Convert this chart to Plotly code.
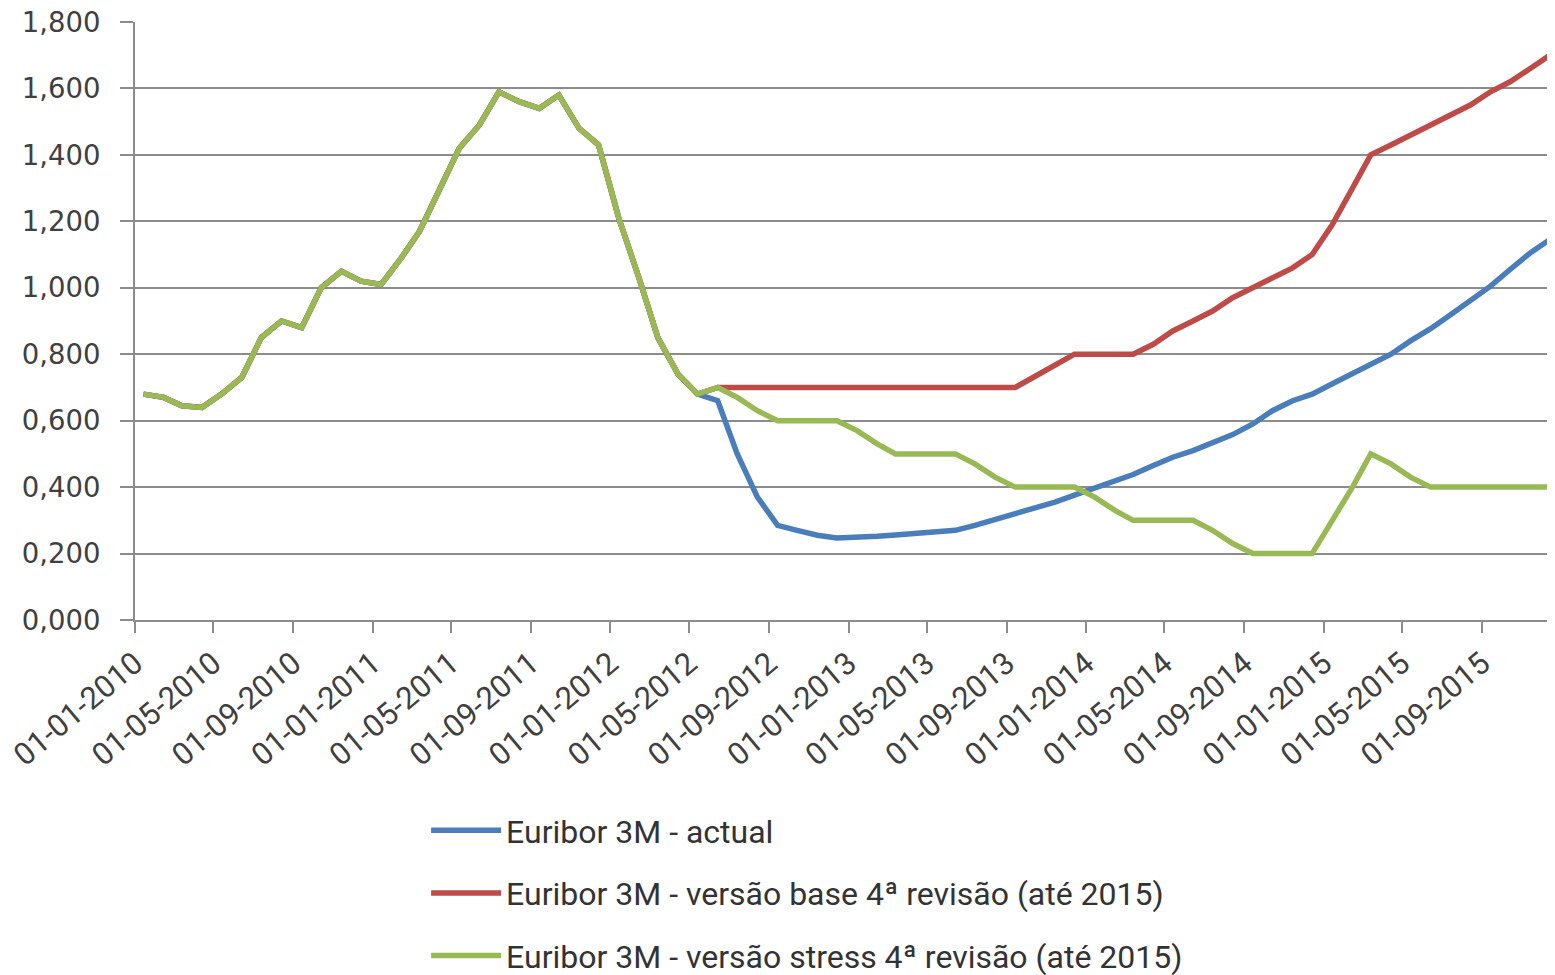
import pandas as pd
import plotly.graph_objects as go

# Euribor 3M, valores mensais (jan-2010 a dez-2015)
historico = [0.68, 0.67, 0.645, 0.64, 0.68, 0.73, 0.85, 0.90, 0.88, 1.00,
             1.05, 1.02, 1.01, 1.09, 1.17, 1.30, 1.42, 1.49, 1.59, 1.56,
             1.54, 1.58, 1.48, 1.43, 1.21, 1.03, 0.85, 0.74, 0.68]

actual = [0.66, 0.50, 0.37, 0.285, 0.27, 0.255, 0.247, 0.248, 0.252, 0.256,
          0.262, 0.265, 0.27, 0.285, 0.302, 0.319, 0.336, 0.355, 0.376, 0.396,
          0.416, 0.438, 0.465, 0.49, 0.51, 0.535, 0.558, 0.59, 0.63, 0.66,
          0.68, 0.711, 0.741, 0.771, 0.80, 0.84, 0.877, 0.918, 0.96, 1.005,
          1.055, 1.105, 1.145]

base = [0.70, 0.70, 0.70, 0.70, 0.70, 0.70, 0.70, 0.70, 0.70, 0.70,
        0.70, 0.70, 0.70, 0.70, 0.70, 0.70, 0.733, 0.767, 0.80, 0.80,
        0.80, 0.80, 0.83, 0.87, 0.90, 0.93, 0.97, 1.00, 1.03, 1.06,
        1.10, 1.19, 1.30, 1.40, 1.43, 1.46, 1.49, 1.52, 1.55, 1.59,
        1.62, 1.66, 1.70]

stress = [0.70, 0.67, 0.63, 0.60, 0.60, 0.60, 0.60, 0.57, 0.53, 0.50,
          0.50, 0.50, 0.50, 0.47, 0.43, 0.40, 0.40, 0.40, 0.40, 0.37,
          0.33, 0.30, 0.30, 0.30, 0.30, 0.27, 0.23, 0.20, 0.20, 0.20,
          0.20, 0.30, 0.40, 0.50, 0.47, 0.43, 0.40, 0.40, 0.40, 0.40,
          0.40, 0.40, 0.40]

nomes = ["Euribor 3M - actual",
         "Euribor 3M - versão base 4ª revisão (até 2015)",
         "Euribor 3M - versão stress 4ª revisão (até 2015)"]
cores = ["#4a7ebb", "#be4b48", "#98b954"]

datas = pd.date_range("2010-01-01", periods=72, freq="MS") + pd.Timedelta(days=13)

fig = go.Figure()
for i, serie in enumerate([actual, base, stress]):
    fig.add_trace(go.Scatter(x=datas, y=historico + serie, mode="lines",
                             name=nomes[i], legendgroup=str(i),
                             line=dict(color=cores[i], width=5.5)))

# a página tem 8px de margem no body, por isso a figura é 8px mais pequena
fig.update_layout(
    width=1547,
    height=967,
    margin=dict(l=127, r=0, t=14, b=355, autoexpand=False),
    plot_bgcolor="white",
    paper_bgcolor="white",
    separators=",.",
    showlegend=True,
    legend=dict(x=0.205, y=-0.306, xanchor="left", yanchor="top",
                font=dict(family="Roboto", size=32, color="#333333"),
                itemwidth=70, tracegroupgap=18, bgcolor="rgba(0,0,0,0)")
)

fig.update_xaxes(
    type="date", automargin=False, ticklabeloverflow="allow",
    range=["2010-01-01", "2015-12-22"],
    tick0="2010-01-01", dtick="M4", tickformat="%d-%m-%Y", tickangle=-40,
    showgrid=False, showline=True, linecolor="#8c8c8c", linewidth=2,
    ticks="outside", ticklen=11, tickwidth=2, tickcolor="#8c8c8c",
    tickfont=dict(family="Roboto", size=31, color="#404040")
)

fig.update_yaxes(
    range=[0, 1.8], dtick=0.2, tickformat=".3f", automargin=False,
    ticklabeloverflow="allow",
    showgrid=True, gridcolor="#8c8c8c", gridwidth=2,
    showline=True, linecolor="#8c8c8c", linewidth=2,
    ticks="outside", ticklen=13, tickwidth=2, tickcolor="#8c8c8c",
    ticklabelstandoff=14, zeroline=False,
    tickfont=dict(family="DejaVu Sans", size=27.5, color="#404040")
)

fig.write_html("out.html")
